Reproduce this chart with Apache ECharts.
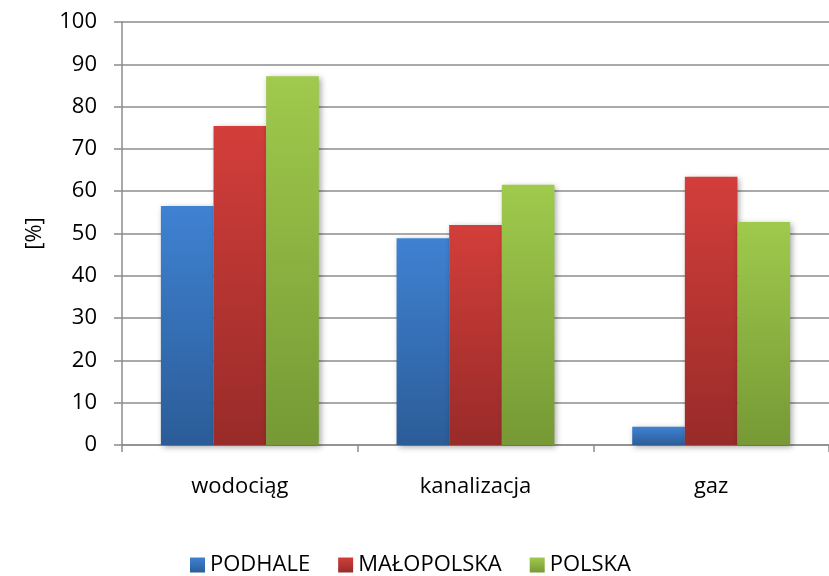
<!DOCTYPE html>
<html>
<head>
  <meta charset="utf-8">
  <title>Wyposażenie w infrastrukturę</title>
  <style>
    html, body { margin: 0; padding: 0; background: #fff; }
    #chart { width: 829px; height: 576px; }
  </style>
</head>
<body>
  <div id="chart"></div>
  <script src="https://cdn.jsdelivr.net/npm/echarts@6/dist/echarts.min.js"></script>
  <script type="text/javascript">
    // dane
    var categories = ['wodociąg', 'kanalizacja', 'gaz'];
    var seriesNames = ['PODHALE', 'MAŁOPOLSKA', 'POLSKA'];
    var podhale = [56.5, 48.9, 4.3];
    var malopolska = [75.4, 52.0, 63.4];
    var polska = [87.2, 61.5, 52.7];
    var yTicks = [0, 10, 20, 30, 40, 50, 60, 70, 80, 90, 100];

    var font = 'Open Sans';
    var colors = [
      ['#3f82d2', '#2b5c98'],
      ['#d33e3a', '#982b29'],
      ['#9fca4c', '#769935']
    ];

    function grad(c) {
      return new echarts.graphic.LinearGradient(0, 0, 0, 1, [
        { offset: 0, color: c[0] },
        { offset: 1, color: c[1] }
      ]);
    }

    function bar(name, data, i) {
      return {
        name: name,
        type: 'bar',
        data: data,
        barGap: '0%',
        barCategoryGap: '33%',
        itemStyle: {
          color: grad(colors[i]),
          shadowColor: 'rgba(0,0,0,0.35)',
          shadowBlur: 6,
          shadowOffsetX: 2,
          shadowOffsetY: 2
        }
      };
    }

    var chart = echarts.init(document.getElementById('chart'));
    chart.setOption({
      animation: false,
      color: colors.map(function (c) { return c[0]; }),
      grid: { left: 122, top: 22, width: 714, height: 423, containLabel: false },
      legend: {
        top: 549,
        left: 185,
        itemWidth: 15,
        itemHeight: 15,
        itemGap: 28,
        icon: 'rect',
        textStyle: { fontFamily: font, fontSize: 22, color: '#000' },
        data: seriesNames
      },
      xAxis: {
        type: 'category',
        data: categories,
        axisLine: { lineStyle: { color: '#8c8c8c', width: 1.5 } },
        axisTick: { show: true, length: 7, lineStyle: { color: '#8c8c8c', width: 1.5 } },
        axisLabel: { fontFamily: font, fontSize: 22, color: '#000', margin: 31 }
      },
      yAxis: {
        type: 'value',
        min: yTicks[0],
        max: yTicks[yTicks.length - 1],
        interval: 10,
        name: '[%]',
        nameLocation: 'middle',
        nameGap: 76,
        nameRotate: 90,
        nameTextStyle: { fontFamily: font, fontSize: 22, color: '#000' },
        axisLine: { show: true, lineStyle: { color: '#8c8c8c', width: 1.5 } },
        axisTick: { show: true, length: 8, lineStyle: { color: '#8c8c8c', width: 1.5 } },
        axisLabel: { fontFamily: font, fontSize: 22, color: '#000', margin: 25 },
        splitLine: { lineStyle: { color: '#8c8c8c', width: 1.5 } }
      },
      series: [
        bar(seriesNames[0], podhale, 0),
        bar(seriesNames[1], malopolska, 1),
        bar(seriesNames[2], polska, 2)
      ]
    });
  </script>
</body>
</html>
